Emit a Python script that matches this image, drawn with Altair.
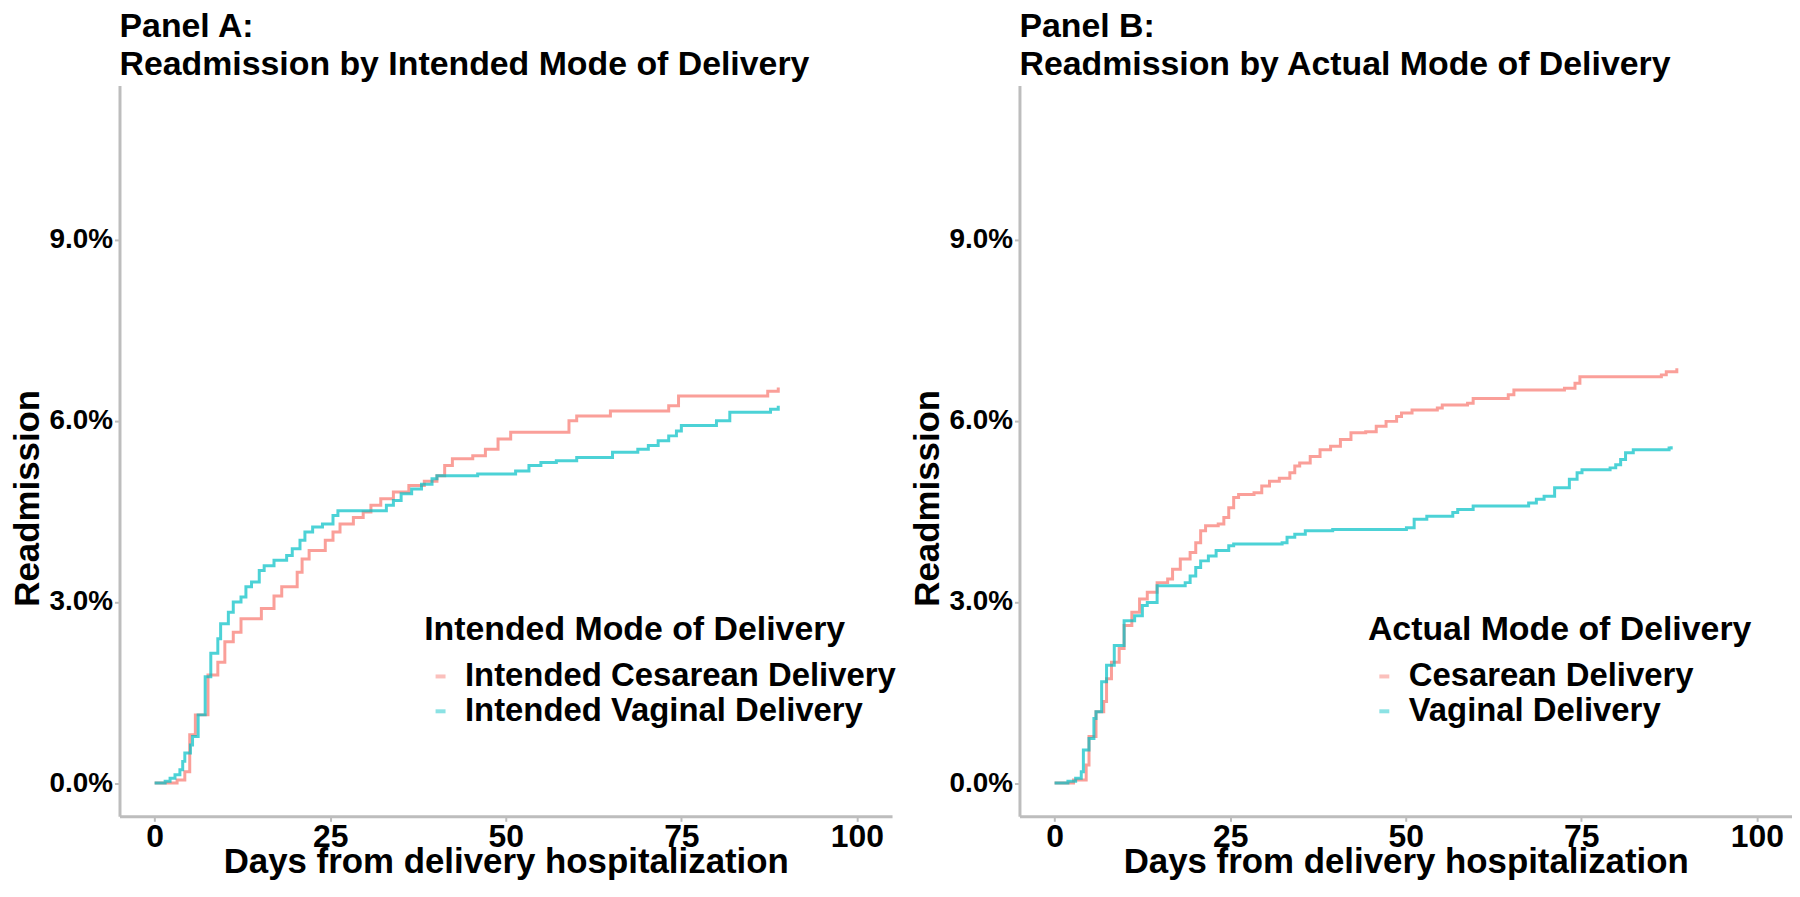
import altair as alt
import pandas as pd

FONT = "Liberation Sans"

# ---- Panel A: intended mode of delivery ----
a_names = ["Intended Cesarean Delivery", "Intended Vaginal Delivery"]
a_ces_days = [0, 3.2, 4.3, 5.0, 5.8, 7.6, 9.0, 10.0, 11.2, 12.3,
              15.2, 17.0, 18.1, 20.3, 21.0, 22.0, 24.3, 25.4, 26.4, 28.3,
              29.7, 30.8, 32.2, 34.0, 36.2, 38.4, 40.2, 41.3, 42.4, 45.3,
              47.1, 48.9, 50.7, 59.0, 60.1, 64.9, 73.2, 74.6, 87.3, 88.8]
a_ces_pct = [0, 0.05, 0.19, 0.8, 1.13, 1.79, 2.0, 2.34, 2.5, 2.72,
             2.89, 3.1, 3.25, 3.49, 3.71, 3.85, 4.02, 4.16, 4.29, 4.4,
             4.49, 4.6, 4.71, 4.82, 4.93, 5.0, 5.09, 5.26, 5.37, 5.42,
             5.53, 5.7, 5.81, 6.0, 6.08, 6.16, 6.25, 6.41, 6.49, 6.55]
a_vag_days = [0, 1.5, 2.2, 2.9, 3.6, 4.0, 4.3, 5.1, 5.4, 6.2,
              7.2, 8.0, 9.0, 9.4, 10.5, 11.2, 12.3, 13.0, 13.8, 14.9,
              15.6, 17.0, 18.8, 19.6, 20.7, 21.4, 22.5, 23.9, 25.4, 26.1,
              33.0, 34.0, 35.1, 36.6, 38.0, 39.5, 40.2, 46.0, 51.4, 53.3,
              55.0, 57.2, 60.1, 65.2, 68.8, 70.3, 71.7, 73.2, 74.3, 75.0,
              80.0, 81.9, 87.7, 88.8]
a_vag_pct = [0, 0.03, 0.08, 0.14, 0.22, 0.36, 0.5, 0.63, 0.77, 1.13,
             1.76, 2.15, 2.39, 2.64, 2.83, 3.0, 3.08, 3.25, 3.33, 3.52,
             3.6, 3.69, 3.77, 3.88, 4.02, 4.16, 4.24, 4.29, 4.43, 4.51,
             4.6, 4.68, 4.79, 4.87, 4.95, 5.04, 5.09, 5.12, 5.17, 5.26,
             5.31, 5.34, 5.39, 5.48, 5.53, 5.59, 5.67, 5.75, 5.83, 5.92,
             6.0, 6.14, 6.19, 6.25]

# ---- Panel B: actual mode of delivery ----
b_names = ["Cesarean Delivery", "Vaginal Delivery"]
b_ces_days = [0, 2.7, 4.5, 4.9, 5.9, 7.0, 7.4, 8.1, 9.2, 9.9,
              11.0, 12.1, 13.2, 14.6, 16.1, 16.8, 17.9, 19.3, 20.1, 20.8,
              21.5, 23.3, 24.1, 24.8, 25.5, 26.2, 28.4, 29.5, 30.6, 32.0,
              33.5, 34.2, 34.9, 36.4, 37.8, 39.3, 40.7, 42.2, 44.3, 45.8,
              47.2, 48.7, 49.4, 50.9, 54.5, 55.2, 58.8, 59.6, 64.6, 65.4,
              72.6, 74.1, 74.8, 86.4, 87.1, 88.6]
b_ces_pct = [0, 0.05, 0.3, 0.77, 1.18, 1.35, 1.73, 2.0, 2.23, 2.61,
             2.83, 3.05, 3.16, 3.32, 3.38, 3.54, 3.71, 3.82, 3.98, 4.18,
             4.26, 4.29, 4.4, 4.56, 4.73, 4.78, 4.81, 4.92, 5.0, 5.05,
             5.14, 5.25, 5.3, 5.41, 5.52, 5.58, 5.69, 5.8, 5.82, 5.91,
             5.99, 6.07, 6.13, 6.18, 6.21, 6.26, 6.29, 6.37, 6.43, 6.51,
             6.54, 6.62, 6.73, 6.76, 6.81, 6.87]
b_vag_days = [0, 1.9, 3.0, 3.8, 4.1, 4.9, 5.6, 5.9, 6.7, 7.4,
              8.5, 9.9, 11.4, 12.5, 13.2, 14.6, 18.6, 19.3, 20.1, 20.8,
              21.9, 23.0, 24.8, 25.5, 32.4, 33.1, 34.2, 35.7, 39.6, 50.1,
              51.2, 53.0, 56.7, 57.4, 59.6, 67.5, 68.6, 69.7, 71.2, 73.3,
              74.4, 75.1, 79.1, 79.9, 80.6, 81.3, 82.4, 87.5, 87.8]
b_vag_pct = [0, 0.03, 0.08, 0.19, 0.55, 0.74, 1.07, 1.18, 1.68, 1.95,
             2.28, 2.69, 2.77, 2.94, 2.99, 3.27, 3.32, 3.43, 3.57, 3.68,
             3.76, 3.85, 3.93, 3.96, 3.98, 4.07, 4.12, 4.18, 4.2, 4.23,
             4.37, 4.42, 4.48, 4.53, 4.59, 4.64, 4.7, 4.75, 4.89, 5.03,
             5.14, 5.19, 5.22, 5.27, 5.36, 5.47, 5.52, 5.55, 5.58]

x_ticks = [0, 25, 50, 75, 100]
y_ticks = [0, 3, 6, 9]
colors = ["#F8766D", "#00BFC4"]


def make_df(names, series):
    rows = []
    for name, (days, pct) in zip(names, series):
        for d, p in zip(days, pct):
            rows.append({"day": d, "pct": p, "group": name})
    return pd.DataFrame(rows)


def panel(title_lines, legend_title, names, series, legend_x):
    df = make_df(names, series)
    return (
        alt.Chart(df)
        .mark_line(interpolate="step-after", strokeWidth=3, opacity=0.7)
        .encode(
            x=alt.X(
                "day:Q",
                scale=alt.Scale(domain=[-5, 105], nice=False, zero=False),
                axis=alt.Axis(values=x_ticks, title="Days from delivery hospitalization",
                              format="d"),
            ),
            y=alt.Y(
                "pct:Q",
                scale=alt.Scale(domain=[-0.55, 11.55], nice=False, zero=False),
                axis=alt.Axis(values=y_ticks, title="Readmission",
                              labelExpr="format(datum.value, '.1f') + '%'",
                              labelFontSize=28,
                              titleX=-92, titleY=414, titleAlign="center",
                              titleBaseline="middle", titleAngle=-90),
            ),
            color=alt.Color(
                "group:N",
                scale=alt.Scale(domain=names, range=colors),
                legend=alt.Legend(title=legend_title, orient="none",
                                  legendX=legend_x, legendY=530),
            ),
        )
        .properties(
            width=776,
            height=734,
            title=alt.TitleParams(text=title_lines, anchor="start", frame="group",
                                  fontSize=34, font=FONT, fontWeight="bold",
                                  color="black", lineHeight=38, offset=4),
        )
    )


pa = panel(["Panel A:", "Readmission by Intended Mode of Delivery"],
           "Intended Mode of Delivery", a_names,
           [(a_ces_days, a_ces_pct), (a_vag_days, a_vag_pct)], 306)
pb = panel(["Panel B:", "Readmission by Actual Mode of Delivery"],
           "Actual Mode of Delivery", b_names,
           [(b_ces_days, b_ces_pct), (b_vag_days, b_vag_pct)], 350)

chart = (
    alt.hconcat(pa, pb, spacing=128, bounds="flush")
    .resolve_scale(color="independent")
    .properties(padding={"left": 3, "top": 0, "right": 0, "bottom": 0})
    .configure_view(stroke=None)
    .configure_axis(
        domainColor="#BDBDBD", domainWidth=3, tickColor="#BDBDBD", tickWidth=2,
        tickSize=5, grid=False, labelFont=FONT, labelFontSize=32,
        labelFontWeight="bold", labelColor="black", titleFont=FONT,
        titleFontSize=35, titleFontWeight="bold", titleColor="black",
        labelPadding=2,
    )
    .configure_axisX(titlePadding=-8, labelPadding=0)
    .configure_legend(
        titleFont=FONT, titleFontSize=34, titleFontWeight="bold", titleColor="black",
        labelFont=FONT, labelFontSize=33, labelFontWeight="bold", labelColor="black",
        symbolType="stroke", symbolStrokeWidth=4, symbolSize=100, symbolOpacity=0.45,
        labelOffset=8, rowPadding=1, titlePadding=13, padding=0,
        labelLimit=0, titleLimit=0,
    )
)

chart.save("out.html", embed_options={"renderer": "svg", "actions": False})
